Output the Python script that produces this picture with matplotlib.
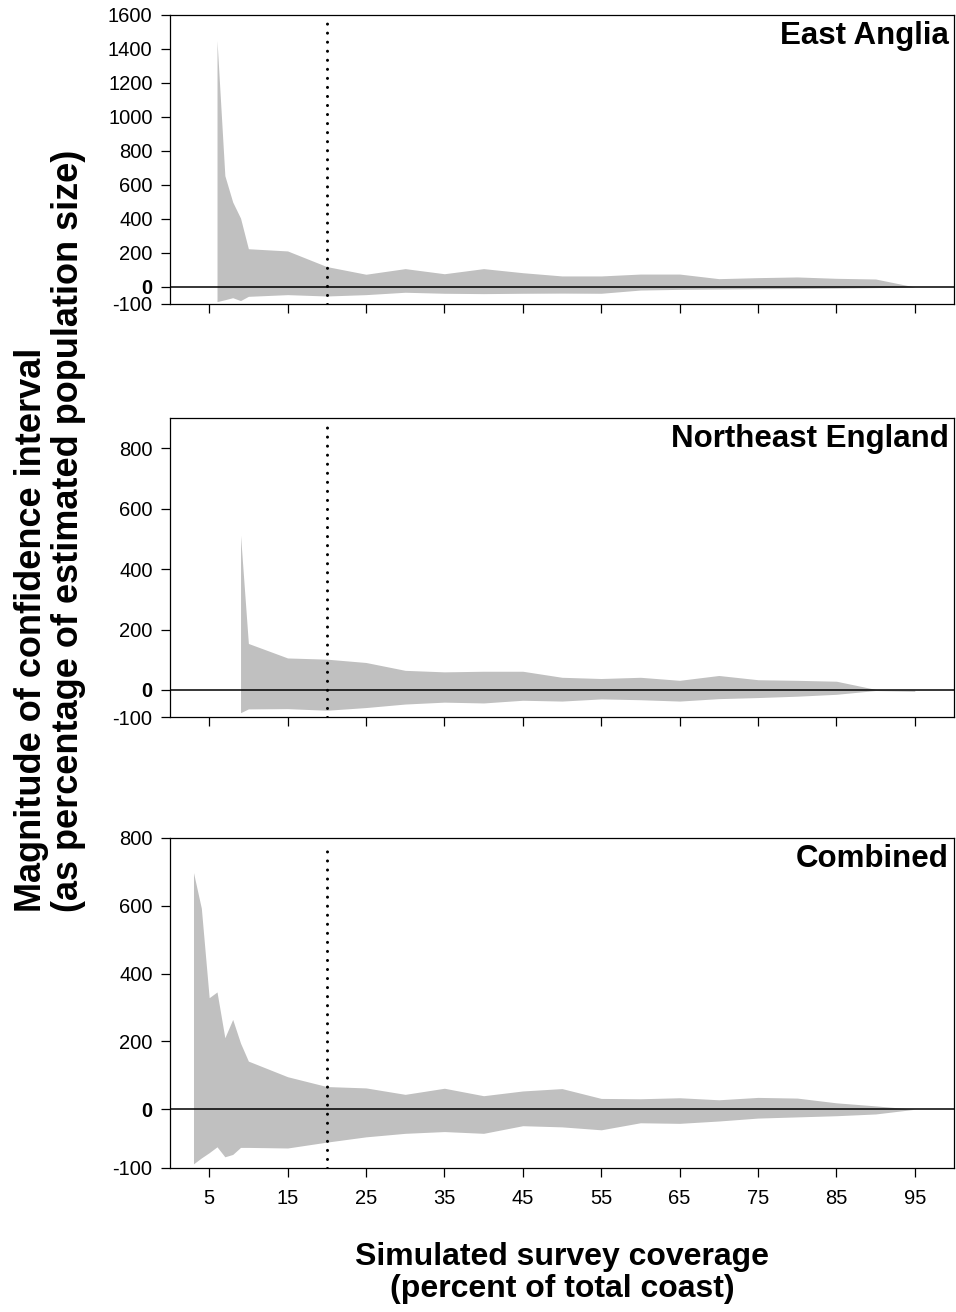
import numpy as np
import matplotlib
matplotlib.use("Agg")
import matplotlib.pyplot as plt

plt.rcParams['font.family'] = ['Liberation Sans', 'DejaVu Sans']

# East Anglia
ea_x = [6, 7, 8, 9, 10, 15, 20, 25, 30, 35, 40, 45, 50, 55, 60, 65, 70, 75, 80, 85, 90, 95]
ea_upper = [1450, 655, 500, 405, 225, 212, 120, 75, 108, 78, 108, 84, 65, 65, 76, 76, 49, 55, 59, 51, 47, 0]
ea_lower = [-86, -75, -63, -80, -55, -45, -53, -45, -31, -37, -39, -37, -36, -37, -18, -14, -12, -10, -9, -7, -4, 0]

# Northeast England
ne_x = [9, 10, 15, 20, 25, 30, 35, 40, 45, 50, 55, 60, 65, 70, 75, 80, 85, 90, 95]
ne_upper = [512, 154, 106, 102, 91, 65, 60, 62, 62, 42, 38, 42, 32, 48, 34, 32, 29, 2, -1]
ne_lower = [-84, -70, -69, -75, -65, -52, -45, -48, -38, -41, -33, -36, -41, -32, -28, -23, -16, -2, -5]

# Combined
co_x = [3, 4, 5, 6, 7, 8, 9, 10, 15, 20, 25, 30, 35, 40, 45, 50, 55, 60, 65, 70, 75, 80, 85, 90, 95]
co_upper = [698, 593, 329, 346, 211, 265, 195, 142, 96, 67, 63, 44, 62, 40, 54, 61, 32, 31, 34, 28, 35, 33, 19, 10, 0]
co_lower = [-93, -83, -74, -64, -81, -77, -65, -65, -66, -56, -47, -41, -38, -41, -28, -30, -35, -23, -24, -20, -15, -13, -11, -8, 0]

panel_names = ["East Anglia", "Northeast England", "Combined"]
x_ticks = [5, 15, 25, 35, 45, 55, 65, 75, 85, 95]
ref_coverage = 20

panels = [
    (ea_x, ea_upper, ea_lower, [-100, 0, 200, 400, 600, 800, 1000, 1200, 1400, 1600], (-100, 1600), 1.0),
    (ne_x, ne_upper, ne_lower, [-100, 0, 200, 400, 600, 800], (-100, 900), 0.894),
    (co_x, co_upper, co_lower, [-100, 0, 200, 400, 600, 800], (-100, 800), 1.73),
]

# axes boxes in figure fractions [left, bottom, width, height]
boxes = [
    [0.1778, 0.7683, 0.8201, 0.2203],
    [0.1778, 0.4535, 0.8201, 0.2279],
    [0.1778, 0.1098, 0.8201, 0.2515],
]


def split_scale(k):
    # negative side of the axis is drawn with its own stretch factor
    def fwd(y):
        y = np.asarray(y, dtype=float)
        return np.where(y >= 0, y, y * k)

    def inv(y):
        y = np.asarray(y, dtype=float)
        return np.where(y >= 0, y, y / k)
    return fwd, inv


fig = plt.figure(figsize=(9.56, 13.12), dpi=100)

for i, (xs, up, lo, yticks, ylim, k) in enumerate(panels):
    ax = fig.add_axes(boxes[i])
    ax.set_yscale('function', functions=split_scale(k))
    ax.fill_between(xs, lo, up, color='#c0c0c0', linewidth=0)
    ax.axhline(0, color='black', linewidth=1.1)
    ax.axvline(ref_coverage, ymin=0, ymax=0.975, color='black', linewidth=2.2,
               linestyle=(0, (0.01, 2.95)), dash_capstyle='round')

    ax.set_xlim(0, 100)
    ax.set_ylim(*ylim)
    ax.set_xticks(x_ticks)
    ax.set_yticks(yticks)
    ax.set_yticklabels([str(t) for t in yticks])
    for lab in ax.get_yticklabels():
        if lab.get_text() == '0':
            lab.set_fontweight('bold')
    ax.yaxis.set_minor_locator(matplotlib.ticker.NullLocator())
    ax.tick_params(direction='out', length=6.5, width=0.9, labelsize=14.5, pad=6)
    ax.tick_params(axis='x', pad=9)
    if i < 2:
        ax.tick_params(axis='x', labelbottom=False)
    for sp in ax.spines.values():
        sp.set_linewidth(0.9)

    ax.annotate(panel_names[i], xy=(1, 1), xycoords='axes fraction',
                xytext=(-5, -6), textcoords='offset pixels',
                ha='right', va='top', fontsize=22.5, fontweight='bold')

fig.text(50 / 956, 1 - 531 / 1312,
         "Magnitude of confidence interval\n(as percentage of estimated population size)",
         rotation=90, ha='center', va='center', multialignment='left',
         fontsize=26, fontweight='bold', linespacing=1.05)
fig.text(562 / 956, 1 - 1273 / 1312,
         "Simulated survey coverage\n(percent of total coast)",
         ha='center', va='center', multialignment='center',
         fontsize=23, fontweight='bold', linespacing=1.05)

fig.savefig("out.png", dpi=100)
plt.close(fig)
